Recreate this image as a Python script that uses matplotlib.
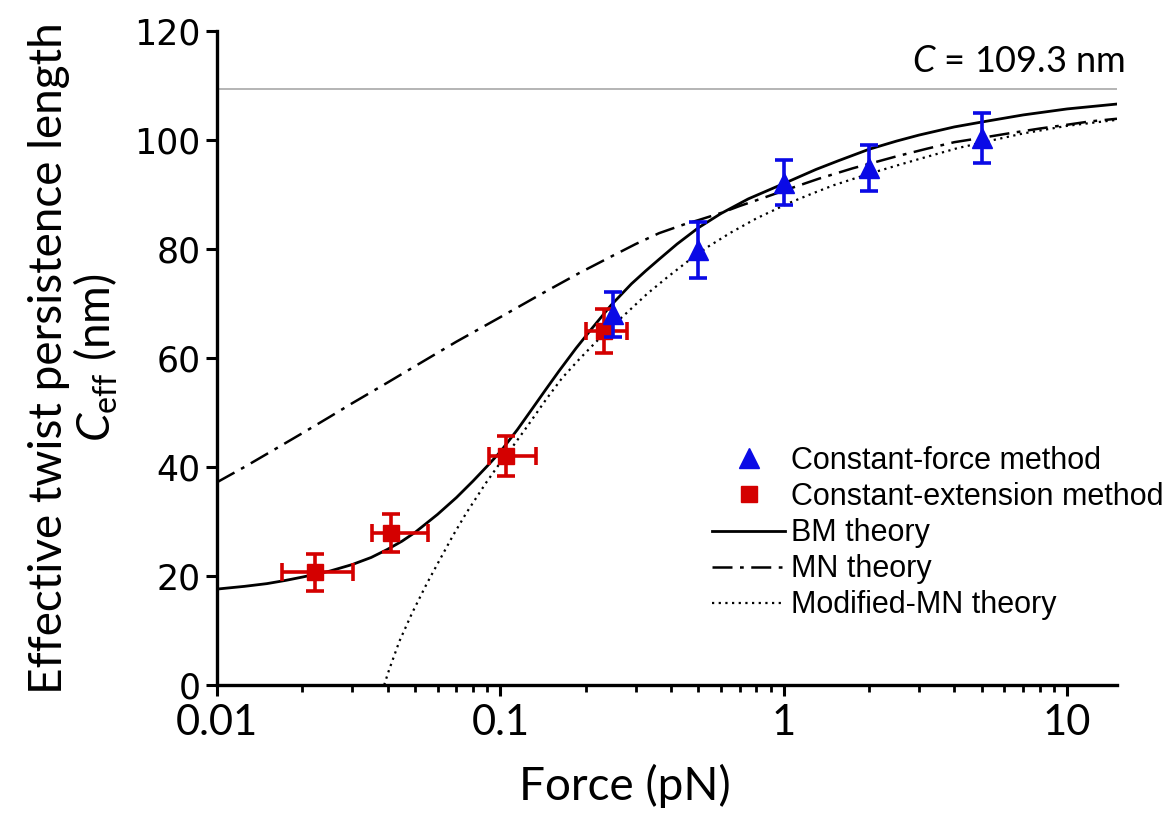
import matplotlib
matplotlib.use('Agg')
import matplotlib.pyplot as plt
from matplotlib.lines import Line2D
from matplotlib.ticker import LogLocator, FixedLocator, NullFormatter

plt.rcParams['mathtext.fontset'] = 'custom'
plt.rcParams['mathtext.it'] = 'Lato:italic'
plt.rcParams['mathtext.rm'] = 'Lato'

# ---- data ----
# constant-force method (blue triangles)
f_cf = [0.25, 0.5, 1.0, 2.0, 5.0]
c_cf = [68.0, 79.8, 92.2, 94.8, 100.4]
c_cf_err = [4.2, 5.2, 4.1, 4.2, 4.6]

# constant-extension method (red squares)
f_ce = [0.0222, 0.0411, 0.105, 0.232]
c_ce = [20.7, 27.9, 42.0, 65.0]
c_ce_err = [3.4, 3.5, 3.6, 4.0]
f_ce_lo = [0.0052, 0.0059, 0.0138, 0.032]
f_ce_hi = [0.0080, 0.0145, 0.029, 0.048]

# BM theory (solid)
f_bm = [0.01, 0.0125, 0.015, 0.0175, 0.02, 0.025, 0.03, 0.035, 0.04, 0.045, 0.05,
        0.06, 0.07, 0.08, 0.09, 0.1, 0.115, 0.13, 0.145, 0.161, 0.185, 0.211,
        0.245, 0.29, 0.326, 0.363, 0.42, 0.5, 0.6, 0.75, 1.0, 1.3, 1.56, 2.0,
        2.5, 3.0, 4.0, 5.0, 7.0, 10.0, 15.0]
c_bm = [17.6, 18.1, 18.6, 19.2, 19.8, 20.9, 22.1, 23.4, 24.9, 26.4, 28.0,
        31.3, 34.4, 37.4, 40.2, 42.8, 46.9, 50.8, 54.3, 57.6, 61.8, 65.5,
        69.6, 73.6, 76.0, 78.1, 80.9, 83.9, 86.5, 89.2, 92.0, 94.6, 96.2, 98.3,
        99.8, 100.9, 102.4, 103.3, 104.6, 105.7, 106.6]

# MN theory (dash-dot)
f_mn = [0.01, 0.0125, 0.015, 0.02, 0.025, 0.03, 0.04, 0.05, 0.07, 0.1, 0.14,
        0.19, 0.25, 0.3, 0.363, 0.45, 0.5, 0.6, 0.7, 0.85, 1.0, 1.33, 1.75,
        2.5, 3.2, 4.0, 5.0, 6.2, 8.0, 10.0, 12.0, 15.0]
c_mn = [37.2, 40.0, 42.4, 46.2, 49.2, 51.7, 55.5, 58.5, 63.0, 67.5, 71.8,
        75.6, 78.8, 80.9, 82.9, 84.6, 85.3, 86.6, 87.9, 89.4, 90.7, 92.9, 94.8,
        97.0, 98.4, 99.6, 100.4, 101.2, 102.1, 102.8, 103.4, 103.9]

# Modified-MN theory (dotted)
f_mm = [0.0389, 0.0405, 0.044, 0.0488, 0.055, 0.0607, 0.068, 0.0757, 0.089,
        0.099, 0.11, 0.125, 0.145, 0.165, 0.19, 0.218, 0.25, 0.278, 0.33, 0.39,
        0.46, 0.54, 0.65, 0.8, 1.04, 1.25, 1.5, 2.0, 2.5, 3.0, 4.1, 5.5, 7.0,
        10.0, 15.0]
c_mm = [0.0, 2.8, 8.0, 13.2, 18.6, 22.7, 27.4, 31.5, 37.1,
        40.5, 43.6, 47.6, 52.4, 56.3, 59.8, 63.0, 66.0, 68.2, 71.8, 74.9,
        77.8, 80.4, 83.0, 85.6, 88.4, 90.1, 91.7, 93.8, 95.3, 96.5, 98.5, 100.0, 101.2,
        102.6, 103.7]

c_bulk = 109.3

blue = '#0a0ae6'
red = '#d40000'

fig = plt.figure(figsize=(11.69, 8.16), dpi=100)
ax = fig.add_axes([217/1169, 1-685/816, 900/1169, 654/816])

ax.axhline(c_bulk, color='#b4b4b4', lw=1.4, zorder=1)
ax.plot(f_bm, c_bm, color='k', lw=2.0, zorder=2)
ax.plot(f_mn, c_mn, color='k', lw=1.8, dashes=[8, 3, 1.5, 3], zorder=2)
ax.plot(f_mm, c_mm, color='k', lw=1.6, dashes=[1, 2], zorder=2)

ax.errorbar(f_ce, c_ce, yerr=c_ce_err, xerr=[f_ce_lo, f_ce_hi], fmt='s', color=red,
            ms=12, elinewidth=2.6, capsize=6.5, capthick=2.6, zorder=3)
ax.errorbar(f_cf, c_cf, yerr=c_cf_err, fmt='^', color=blue,
            ms=15, elinewidth=2.6, capsize=6.5, capthick=2.6, zorder=4)

ax.set_xscale('log')
ax.set_xlim(0.01, 15)
ax.set_ylim(0, 120)
ax.yaxis.set_major_locator(FixedLocator([0, 20, 40, 60, 80, 100, 120]))
ax.xaxis.set_major_locator(FixedLocator([0.01, 0.1, 1, 10]))
ax.xaxis.set_minor_locator(LogLocator(base=10, subs=range(2, 10)))
ax.xaxis.set_minor_formatter(NullFormatter())
ax.set_xticklabels(['0.01', '0.1', '1', '10'], family='Lato', fontsize=30)
ax.set_yticklabels(['0', '20', '40', '60', '80', '100', '120'],
                   family='DejaVu Sans', fontsize=25)

for s in ['top', 'right']:
    ax.spines[s].set_visible(False)
for s in ['left', 'bottom']:
    ax.spines[s].set_linewidth(2.4)
ax.tick_params(which='major', direction='out', length=8, width=2.2)
ax.tick_params(axis='x', which='major', pad=6)
ax.tick_params(axis='y', which='major', pad=4)
ax.tick_params(which='minor', direction='out', length=5, width=2.0)

ax.set_xlabel('Force (pN)', family='Lato', fontsize=33)
ax.xaxis.set_label_coords(0.453, -0.12)
ax.set_ylabel('Effective twist persistence length\n$C_{\\mathrm{eff}}$ (nm)',
              family='Lato', fontsize=33, labelpad=10, linespacing=1.05)

ax.text(1125/1169, 1-72/816, '$C$ = 109.3 nm', transform=fig.transFigure,
        ha='right', va='baseline', family='Lato', fontsize=26)

handles = [
    Line2D([], [], ls='none', marker='^', color=blue, ms=15),
    Line2D([], [], ls='none', marker='s', color=red, ms=12),
    Line2D([], [], color='k', lw=2.0),
    Line2D([], [], color='k', lw=1.8, dashes=[8, 3, 1.5, 3]),
    Line2D([], [], color='k', lw=1.6, dashes=[1, 2]),
]
labels = ['Constant-force method', 'Constant-extension method', 'BM theory',
          'MN theory', 'Modified-MN theory']
fig.legend(handles, labels, loc='upper left', bbox_to_anchor=(712/1169, 1-446/816),
           frameon=False, prop={'family': 'Liberation Sans', 'size': 22},
           handlelength=2.4, handletextpad=0.2, labelspacing=0.2,
           borderpad=0, borderaxespad=0)

fig.savefig('out.png', dpi=100)
